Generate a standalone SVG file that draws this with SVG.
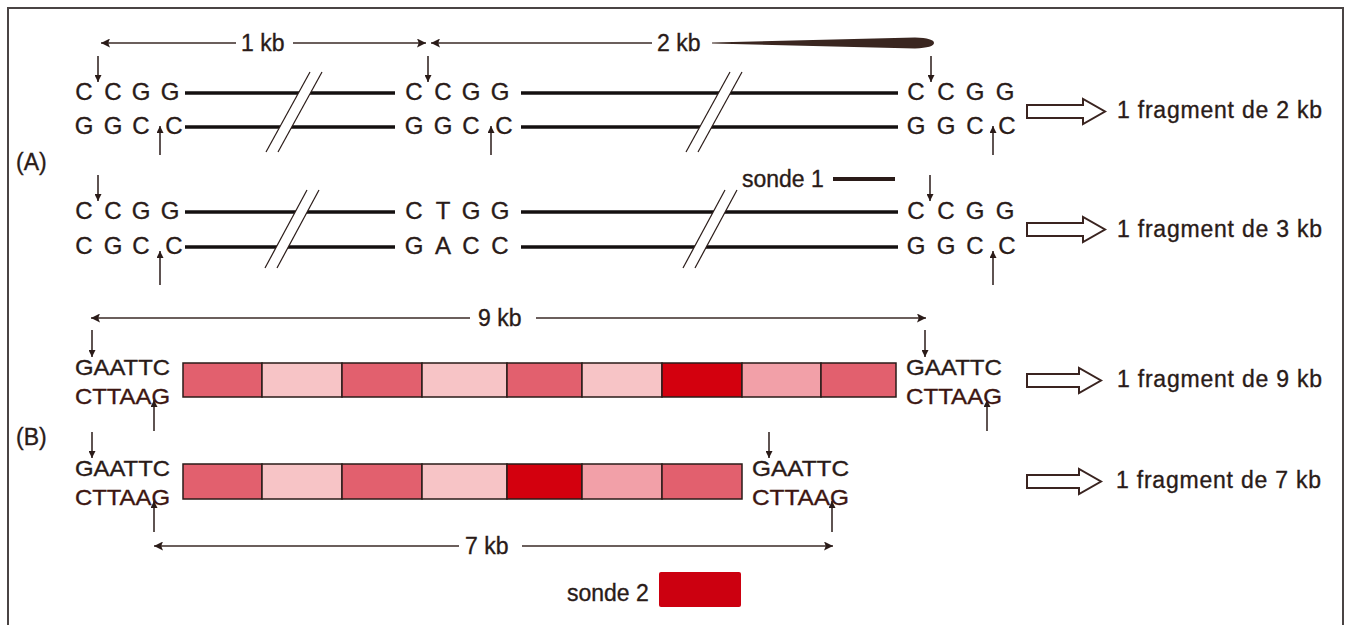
<svg xmlns="http://www.w3.org/2000/svg" width="1347" height="625" viewBox="0 0 1347 625">
<style>
  .t{font-family:"Liberation Sans",Arial,sans-serif;fill:#2a1b18;stroke:#2a1b18;stroke-width:0.35}
  .dna{font-size:24px;text-anchor:middle}
  .seq{font-size:22px}
  .seq2{font-size:22px;fill:#3d1611;stroke:#3d1611}
  .lab{font-size:23px}
  .strand{stroke:#141010;stroke-width:3.5;fill:none}
  .cut{stroke:#2a1b18;stroke-width:1.5;fill:none}
  .dim{stroke:#3a2a26;stroke-width:1.3;fill:none}
  .slash{fill:#fff;stroke:none}
  .sl{stroke:#2a1b18;stroke-width:1.2}
  .blk{fill:#fff;stroke:#3a2420;stroke-width:2;stroke-linejoin:miter}
  .seg{stroke:#2a1b18;stroke-width:1.5}
  .m{fill:#e2606e}
  .l{fill:#f7c4c6}
  .d{fill:#d3000e}
  .lm{fill:#f2a0a8}
</style>
<defs>
  <marker id="ah" viewBox="0 0 10 10" refX="10" refY="5" markerWidth="7" markerHeight="7" markerUnits="userSpaceOnUse" orient="auto">
    <path d="M0,0 L10,5 L0,10 Z" fill="#2a1b18"/>
  </marker>
  <marker id="dh" viewBox="0 0 10 10" refX="10" refY="5" markerWidth="11" markerHeight="9" markerUnits="userSpaceOnUse" orient="auto">
    <path d="M0,0 L10,5 L0,10 L2,5 Z" fill="#2a1b18"/>
  </marker>
</defs>

<rect x="8" y="8" width="1335" height="618" fill="#fff" stroke="#4a4444" stroke-width="2"/>

<g id="labels">
  <text class="t lab" x="16" y="170">(A)</text>
  <text class="t lab" x="16" y="445">(B)</text>
</g>

<g id="connectors">
  <!-- dimension lines -->
  <line class="dim" x1="236" y1="43" x2="101" y2="43" marker-end="url(#dh)"/>
  <line class="dim" x1="293" y1="43" x2="426" y2="43" marker-end="url(#dh)"/>
  <line class="dim" x1="652" y1="43" x2="431" y2="43" marker-end="url(#dh)"/>
  <path d="M712,42.6 L915,37.6 Q934,38.3 934,43 Q934,47.7 915,48.4 L712,43.6 Z" fill="#3a2620"/>
  <line class="dim" x1="470" y1="318" x2="91" y2="318" marker-end="url(#dh)"/>
  <line class="dim" x1="536" y1="318" x2="926" y2="318" marker-end="url(#dh)"/>
  <line class="dim" x1="459" y1="546" x2="154" y2="546" marker-end="url(#dh)"/>
  <line class="dim" x1="522" y1="546" x2="833" y2="546" marker-end="url(#dh)"/>
  <!-- cut arrows A1 -->
  <line class="cut" x1="98" y1="56" x2="98" y2="82" marker-end="url(#ah)"/>
  <line class="cut" x1="428" y1="56" x2="428" y2="82" marker-end="url(#ah)"/>
  <line class="cut" x1="931" y1="56" x2="931" y2="82" marker-end="url(#ah)"/>
  <line class="cut" x1="160" y1="155" x2="160" y2="126" marker-end="url(#ah)"/>
  <line class="cut" x1="491" y1="155" x2="491" y2="126" marker-end="url(#ah)"/>
  <line class="cut" x1="993" y1="155" x2="993" y2="126" marker-end="url(#ah)"/>
  <!-- cut arrows A2 -->
  <line class="cut" x1="98" y1="175" x2="98" y2="201" marker-end="url(#ah)"/>
  <line class="cut" x1="930" y1="175" x2="930" y2="201" marker-end="url(#ah)"/>
  <line class="cut" x1="160" y1="285" x2="160" y2="251" marker-end="url(#ah)"/>
  <line class="cut" x1="993" y1="285" x2="993" y2="251" marker-end="url(#ah)"/>
  <!-- cut arrows B -->
  <line class="cut" x1="92" y1="330" x2="92" y2="357" marker-end="url(#ah)"/>
  <line class="cut" x1="925" y1="330" x2="925" y2="357" marker-end="url(#ah)"/>
  <line class="cut" x1="154" y1="431" x2="154" y2="400" marker-end="url(#ah)"/>
  <line class="cut" x1="987" y1="431" x2="987" y2="400" marker-end="url(#ah)"/>
  <line class="cut" x1="92" y1="432" x2="92" y2="458" marker-end="url(#ah)"/>
  <line class="cut" x1="769" y1="432" x2="769" y2="458" marker-end="url(#ah)"/>
  <line class="cut" x1="154" y1="532" x2="154" y2="501" marker-end="url(#ah)"/>
  <line class="cut" x1="832" y1="532" x2="832" y2="501" marker-end="url(#ah)"/>
  <!-- result arrows -->
  <path class="blk" d="M1027,105 H1083 V99 L1105,111.5 L1083,124 V118 H1027 Z"/>
  <path class="blk" d="M1027,223 H1083 V217 L1105,229.5 L1083,242 V236 H1027 Z"/>
  <path class="blk" d="M1027,374 H1079 V368 L1101,380.5 L1079,393 V387 H1027 Z"/>
  <path class="blk" d="M1027,475 H1079 V469 L1101,481.5 L1079,494 V488 H1027 Z"/>
</g>

<g id="dimension-labels">
  <text class="t lab" x="241" y="51">1 kb</text>
  <text class="t lab" x="657" y="51">2 kb</text>
  <text class="t lab" x="478" y="326">9 kb</text>
  <text class="t lab" x="465" y="554">7 kb</text>
</g>

<g id="strandA1">
  <line class="strand" x1="185" y1="93" x2="395" y2="93"/>
  <line class="strand" x1="185" y1="127" x2="395" y2="127"/>
  <line class="strand" x1="521" y1="93" x2="898" y2="93"/>
  <line class="strand" x1="521" y1="127" x2="898" y2="127"/>
  <polygon class="slash" points="266,152 310,72 322,72 278,152"/>
  <line class="sl" x1="266" y1="152" x2="310" y2="72"/>
  <line class="sl" x1="278" y1="152" x2="322" y2="72"/>
  <polygon class="slash" points="686,152 730,72 742,72 698,152"/>
  <line class="sl" x1="686" y1="152" x2="730" y2="72"/>
  <line class="sl" x1="698" y1="152" x2="742" y2="72"/>
</g>

<g id="siteA1-left" class="t dna">
  <text x="84" y="100">C</text><text x="113" y="100">C</text><text x="141" y="100">G</text><text x="170" y="100">G</text>
  <text x="84" y="134">G</text><text x="113" y="134">G</text><text x="141" y="134">C</text><text x="174" y="134">C</text>
</g>
<g id="siteA1-mid" class="t dna">
  <text x="414" y="100">C</text><text x="443" y="100">C</text><text x="471" y="100">G</text><text x="500" y="100">G</text>
  <text x="414" y="134">G</text><text x="443" y="134">G</text><text x="471" y="134">C</text><text x="504" y="134">C</text>
</g>
<g id="siteA1-right" class="t dna">
  <text x="916" y="100">C</text><text x="946" y="100">C</text><text x="975" y="100">G</text><text x="1005" y="100">G</text>
  <text x="916" y="134">G</text><text x="946" y="134">G</text><text x="975" y="134">C</text><text x="1007" y="134">C</text>
</g>

<g id="strandA2">
  <line class="strand" x1="185" y1="212" x2="395" y2="212"/>
  <line class="strand" x1="185" y1="247" x2="395" y2="247"/>
  <line class="strand" x1="521" y1="212" x2="898" y2="212"/>
  <line class="strand" x1="521" y1="247" x2="898" y2="247"/>
  <polygon class="slash" points="265,268 307,190 319,190 277,268"/>
  <line class="sl" x1="265" y1="268" x2="307" y2="190"/>
  <line class="sl" x1="277" y1="268" x2="319" y2="190"/>
  <polygon class="slash" points="683,268 725,190 737,190 695,268"/>
  <line class="sl" x1="683" y1="268" x2="725" y2="190"/>
  <line class="sl" x1="695" y1="268" x2="737" y2="190"/>
</g>

<g id="siteA2-left" class="t dna">
  <text x="84" y="219">C</text><text x="113" y="219">C</text><text x="141" y="219">G</text><text x="170" y="219">G</text>
  <text x="84" y="254">C</text><text x="113" y="254">G</text><text x="141" y="254">C</text><text x="174" y="254">C</text>
</g>
<g id="siteA2-mid" class="t dna">
  <text x="414" y="219">C</text><text x="443" y="219">T</text><text x="471" y="219">G</text><text x="500" y="219">G</text>
  <text x="414" y="254">G</text><text x="443" y="254">A</text><text x="471" y="254">C</text><text x="500" y="254">C</text>
</g>
<g id="siteA2-right" class="t dna">
  <text x="916" y="219">C</text><text x="946" y="219">C</text><text x="975" y="219">G</text><text x="1005" y="219">G</text>
  <text x="916" y="254">G</text><text x="946" y="254">G</text><text x="975" y="254">C</text><text x="1007" y="254">C</text>
</g>

<g id="sonde1">
  <text class="t lab" x="742" y="187">sonde 1</text>
  <line x1="833" y1="179" x2="895" y2="179" stroke="#2a1b18" stroke-width="4"/>
</g>

<g id="fragmentB1">
  <rect class="seg m" x="183" y="363" width="79" height="34"/>
  <rect class="seg l" x="262" y="363" width="80" height="34"/>
  <rect class="seg m" x="342" y="363" width="80" height="34"/>
  <rect class="seg l" x="422" y="363" width="85" height="34"/>
  <rect class="seg m" x="507" y="363" width="75" height="34"/>
  <rect class="seg l" x="582" y="363" width="80" height="34"/>
  <rect class="seg d" x="662" y="363" width="80" height="34"/>
  <rect class="seg lm" x="742" y="363" width="79" height="34"/>
  <rect class="seg m" x="821" y="363" width="75" height="34"/>
</g>
<g id="siteB1-left">
  <text class="t seq" x="75" y="375" textLength="95" lengthAdjust="spacingAndGlyphs">GAATTC</text>
  <text class="t seq2" x="75" y="404" textLength="95" lengthAdjust="spacingAndGlyphs">CTTAAG</text>
</g>
<g id="siteB1-right">
  <text class="t seq" x="906" y="375" textLength="96" lengthAdjust="spacingAndGlyphs">GAATTC</text>
  <text class="t seq2" x="906" y="404" textLength="96" lengthAdjust="spacingAndGlyphs">CTTAAG</text>
</g>

<g id="fragmentB2">
  <rect class="seg m" x="183" y="464" width="79" height="35"/>
  <rect class="seg l" x="262" y="464" width="80" height="35"/>
  <rect class="seg m" x="342" y="464" width="80" height="35"/>
  <rect class="seg l" x="422" y="464" width="85" height="35"/>
  <rect class="seg d" x="507" y="464" width="75" height="35"/>
  <rect class="seg lm" x="582" y="464" width="80" height="35"/>
  <rect class="seg m" x="662" y="464" width="80" height="35"/>
</g>
<g id="siteB2-left">
  <text class="t seq" x="75" y="476" textLength="95" lengthAdjust="spacingAndGlyphs">GAATTC</text>
  <text class="t seq2" x="75" y="505" textLength="95" lengthAdjust="spacingAndGlyphs">CTTAAG</text>
</g>
<g id="siteB2-right">
  <text class="t seq" x="752" y="476" textLength="97" lengthAdjust="spacingAndGlyphs">GAATTC</text>
  <text class="t seq2" x="752" y="505" textLength="97" lengthAdjust="spacingAndGlyphs">CTTAAG</text>
</g>

<g id="sonde2">
  <text class="t lab" x="567" y="601">sonde 2</text>
  <rect x="659" y="572" width="82" height="35" rx="2" fill="#cc0010"/>
</g>

<g id="results">
  <text class="t lab" x="1117" y="118" textLength="205" lengthAdjust="spacing">1 fragment de 2 kb</text>
  <text class="t lab" x="1117" y="237" textLength="205" lengthAdjust="spacing">1 fragment de 3 kb</text>
  <text class="t lab" x="1117" y="387" textLength="205" lengthAdjust="spacing">1 fragment de 9 kb</text>
  <text class="t lab" x="1116" y="488" textLength="205" lengthAdjust="spacing">1 fragment de 7 kb</text>
</g>
</svg>
